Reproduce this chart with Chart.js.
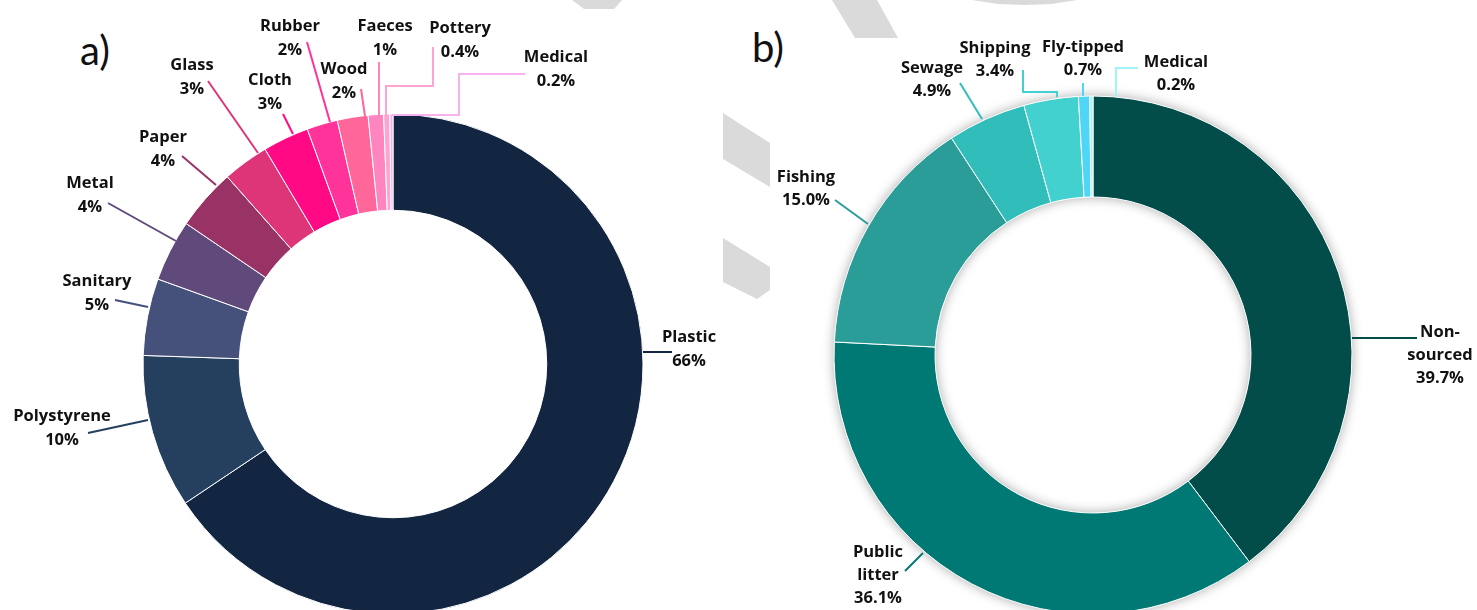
<!DOCTYPE html>
<html>
<head>
<meta charset="utf-8">
<script src="https://cdn.jsdelivr.net/npm/chart.js@4.4.1/dist/chart.umd.min.js"></script>
<style>
html, body { margin: 0; padding: 0; background: #fff; width: 1477px; height: 610px; overflow: hidden; }
.box { position: absolute; }
#boxA { left: 0; top: 0; width: 786px; height: 728px; }
#boxB { left: 709px; top: 0; width: 768px; height: 710px; }
#wm { position: absolute; left: 0; top: 0; }
.tag { position: absolute; font-family: Lato, sans-serif; font-size: 40px; color: #111; line-height: 1; }
</style>
</head>
<body>
<svg id="wm" width="1477" height="610">
  <g fill="#dadada">
    <polygon points="572,0 622,0 614,9 584,9"/>
    <polygon points="723,113 770,143 770,187 723,159"/>
    <polygon points="723,238 770,267 770,290 757,299 723,282"/>
    <polygon points="832,0 877,0 898,38 855,38"/>
    <polygon points="972,0 1077,0 1052,4 1025,5 998,4"/>
  </g>
</svg>
<div class="tag" style="left:80px;top:30px;">a)</div>
<div class="tag" style="left:752px;top:27px;">b)</div>
<div class="box" id="boxA"><canvas id="chartA"></canvas></div>
<div class="box" id="boxB"><canvas id="chartB"></canvas></div>
<script>
// a) litter by material
const labelsA = ['Plastic', 'Polystyrene', 'Sanitary', 'Metal', 'Paper', 'Glass', 'Cloth', 'Rubber', 'Wood', 'Faeces', 'Pottery', 'Medical'];
const valuesA = [66, 10, 5, 4, 4, 3, 3, 2, 2, 1, 0.4, 0.2];
const colorsA = ['#132641', '#253f5f', '#46517b', '#5f4a7b', '#993366', '#dd3577', '#ff0a84', '#ff3399', '#ff6699', '#ff85c0', '#ffa3d1', '#f5b2ee'];

// b) litter by source
const labelsB = ['Non-sourced', 'Public litter', 'Fishing', 'Sewage', 'Shipping', 'Fly-tipped', 'Medical'];
const valuesB = [39.7, 36.1, 15.0, 4.9, 3.4, 0.7, 0.2];
const colorsB = ['#024d4a', '#007873', '#2a9d99', '#31bdba', '#42d1cf', '#4fd6f7', '#a0f4f6'];
const linesB = [['Non-', 'sourced'], ['Public', 'litter'], ['Fishing'], ['Sewage'], ['Shipping'], ['Fly-tipped'], ['Medical']];

// label placement, relative to the ring centre
const posA = [[296, -27], [-331, 52], [-296, -83], [-303, -181], [-230, -227], [-201, -299], [-123, -284], [-103, -338], [-49, -295], [-8, -338], [67, -336], [163, -307]];
const leadA = [
    [[250, -12], [279, -12]],
    [[-245, 56], [-305, 69]],
    [[-245, -57], [-278, -64]],
    [[-217, -123], [-285, -161]],
    [[-177, -179], [-211, -208]],
    [[-135, -211], [-185, -283]],
    [[-100, -230], [-110, -250]],
    [[-63, -242], [-86, -322]],
    [[-28, -248], [-32, -275]],
    [[-14, -249], [-14, -302]],
    [[-7, -249], [-7, -278], [40, -278], [40, -317]],
    [[-1, -249], [66, -249], [66, -290], [132, -290]]
];
const posB = [[347, -23], [-215, 197], [-287, -178], [-161, -287], [-98, -307], [-10, -308], [83, -293]];
const leadB = [
    [[259, -17], [324, -17]],
    [[-170, 198], [-188, 216]],
    [[-225, -131], [-258, -155]],
    [[-111, -236], [-133, -272]],
    [[-36, -258], [-36, -263], [-70, -263], [-70, -285]],
    [[-10, -259], [-10, -272]],
    [[23, -259], [23, -287], [45, -287]]
];

const textsA = labelsA.map((l, i) => [l, valuesA[i] + '%']);
const textsB = linesB.map((l, i) => [...l, valuesB[i].toFixed(1) + '%']);

const callouts = {
    id: 'callouts',
    beforeDatasetsDraw(chart, args, opts) {
        if (!opts.shadow) return;
        const a = chart.getDatasetMeta(0).data[0];
        const ctx = chart.ctx;
        ctx.save();
        ctx.shadowColor = 'rgba(0,0,0,0.35)';
        ctx.shadowBlur = opts.shadow;
        ctx.fillStyle = '#fff';
        ctx.beginPath();
        ctx.arc(a.x, a.y, a.outerRadius, 0, Math.PI * 2);
        ctx.arc(a.x, a.y, a.innerRadius, 0, Math.PI * 2, true);
        ctx.fill();
        ctx.restore();
    },
    afterDatasetsDraw(chart, args, opts) {
        const a = chart.getDatasetMeta(0).data[0];
        const cx = a.x, cy = a.y;
        const ctx = chart.ctx;
        const cols = chart.data.datasets[0].backgroundColor;
        ctx.save();
        ctx.lineWidth = 2;
        opts.leads.forEach((pts, i) => {
            ctx.strokeStyle = cols[i];
            ctx.beginPath();
            pts.forEach(([dx, dy], k) => k ? ctx.lineTo(cx + dx, cy + dy) : ctx.moveTo(cx + dx, cy + dy));
            ctx.stroke();
        });
        ctx.fillStyle = '#111';
        ctx.font = 'bold 16.5px "Open Sans"';
        ctx.textAlign = 'center';
        ctx.textBaseline = 'middle';
        opts.texts.forEach((lines, i) => {
            const [dx, dy] = opts.pos[i];
            lines.forEach((t, k) => ctx.fillText(t, cx + dx, cy + dy + k * opts.gap));
        });
        ctx.restore();
    }
};

function makeDoughnut(id, labels, values, colors, radius, cutout, extra) {
    return new Chart(document.getElementById(id), {
        type: 'doughnut',
        data: {
            labels: labels,
            datasets: [{
                data: values,
                backgroundColor: colors,
                borderColor: '#ffffff',
                borderWidth: 1
            }]
        },
        options: {
            responsive: true,
            maintainAspectRatio: false,
            animation: false,
            radius: radius,
            cutout: cutout,
            layout: { padding: 0 },
            plugins: {
                legend: { display: false },
                tooltip: { enabled: false },
                callouts: extra
            }
        },
        plugins: [callouts]
    });
}

makeDoughnut('chartA', labelsA, valuesA, colorsA, 250, '61.5%', { pos: posA, leads: leadA, texts: textsA, gap: 24, shadow: 0 });
makeDoughnut('chartB', labelsB, valuesB, colorsB, 259, '61%', { pos: posB, leads: leadB, texts: textsB, gap: 23, shadow: 12 });
</script>
</body>
</html>
